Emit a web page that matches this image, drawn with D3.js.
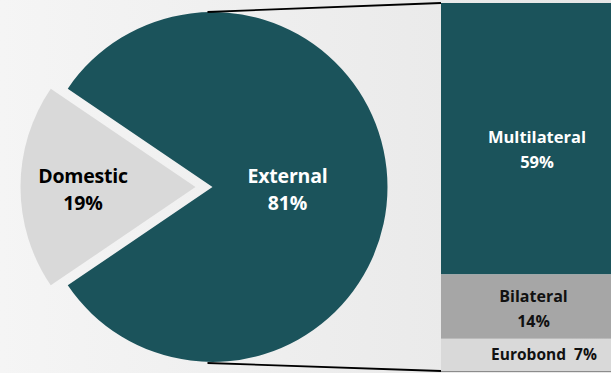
<!DOCTYPE html>
<html><head><meta charset="utf-8">
<script src="https://cdn.jsdelivr.net/npm/d3@7"></script>
<style>html,body{margin:0;padding:0;overflow:hidden;background:#f0f0f0}</style>
</head><body>
<svg id="chart" width="611" height="373"></svg>
<script>
// Data
const pieLabels = ["Domestic", "External"];
const pieValues = [19, 81];
const barLabels = ["Multilateral", "Bilateral", "Eurobond"];
const barValues = [59, 14, 7];

const W = 611, H = 373;
const svg = d3.select("#chart");
const defs = svg.append("defs");
const grad = defs.append("linearGradient").attr("id","bg").attr("x1","0").attr("y1","0").attr("x2","1").attr("y2","0");
grad.append("stop").attr("offset","0").attr("stop-color","#f5f5f5");
grad.append("stop").attr("offset","1").attr("stop-color","#e6e6e6");
svg.append("rect").attr("width",W).attr("height",H).attr("fill","url(#bg)");

const teal = "#1b535b";
const cx = 212.5, cy = 187, r = 175;
const font = "'Open Sans', 'Noto Sans', sans-serif";

// Pie: Domestic centered on the left
const domFrac = pieValues[0] / d3.sum(pieValues);
const startA = -Math.PI/2 - domFrac*Math.PI;
const pie = d3.pie().sort(null).value(d => d).startAngle(startA).endAngle(startA + 2*Math.PI);
const arcs = pie(pieValues);
const arc = d3.arc().innerRadius(0).outerRadius(r);
const explode = [17, 0];
const pieColors = ["#d9d9d9", teal];

const g = svg.append("g").attr("transform", `translate(${cx},${cy})`);
arcs.forEach((a, i) => {
  const mid = (a.startAngle + a.endAngle)/2;
  const dx = Math.sin(mid)*explode[i], dy = -Math.cos(mid)*explode[i];
  g.append("path").attr("d", arc(a)).attr("fill", pieColors[i])
    .attr("transform", `translate(${dx},${dy})`);
});

// Pie labels
const pieLabelX = [83 - cx, 287.5 - cx];
const pieTextColor = ["#000", "#fff"];
arcs.forEach((a, i) => {
  const t = g.append("text").attr("text-anchor","middle")
    .attr("font-family", font).attr("font-weight", 700).attr("font-size", 19.5)
    .attr("letter-spacing", -0.2)
    .attr("fill", pieTextColor[i]);
  t.append("tspan").attr("x", pieLabelX[i]).attr("y", -4).text(pieLabels[i]);
  t.append("tspan").attr("x", pieLabelX[i]).attr("y", 23).text(pieValues[i] + "%");
});

// Stacked bar
const barX = 441, barW = 200, barTop = 3, barBottom = 371;
const y = d3.scaleLinear().domain([0, d3.sum(barValues)]).range([barTop, barBottom]);
const cum = d3.cumsum([0, ...barValues]);
const barColors = [teal, "#a6a6a6", "#d9d9d9"];
barValues.forEach((v, i) => {
  svg.append("rect").attr("x", barX).attr("y", y(cum[i])).attr("width", barW)
    .attr("height", y(cum[i+1]) - y(cum[i])).attr("fill", barColors[i]);
});
svg.append("line").attr("x1", barX).attr("x2", W).attr("y1", barBottom+0.5).attr("y2", barBottom+0.5)
  .attr("stroke", "#8c8c8c").attr("stroke-width", 1);

// bar labels
const mid1 = (y(cum[1]) + y(cum[2]))/2;
const mid2 = (y(cum[2]) + y(cum[3]))/2;
const t0 = svg.append("text").attr("text-anchor","middle").attr("font-family",font).attr("font-weight",700)
  .attr("font-size",16.5).attr("fill","#fff");
t0.append("tspan").attr("x", 537).attr("y", 143).text(barLabels[0]);
t0.append("tspan").attr("x", 537).attr("y", 168).text(barValues[0] + "%");
const t1 = svg.append("text").attr("text-anchor","middle").attr("font-family",font).attr("font-weight",700)
  .attr("font-size",16).attr("fill","#111");
t1.append("tspan").attr("x", 533.5).attr("y", 302).text(barLabels[1]);
t1.append("tspan").attr("x", 533.5).attr("y", 327).text(barValues[1] + "%");
svg.append("text").attr("text-anchor","middle").attr("font-family",font).attr("font-weight",700)
  .attr("font-size",15.5).attr("fill","#111").attr("x", 544).attr("y", 360)
  .attr("xml:space","preserve").text(barLabels[2] + "  " + barValues[2] + "%");

// connector lines
svg.append("line").attr("x1", cx - 5).attr("y1", cy - r).attr("x2", barX).attr("y2", barTop)
  .attr("stroke", "#000").attr("stroke-width", 1.8);
svg.append("line").attr("x1", cx - 5).attr("y1", cy + r + 1).attr("x2", barX).attr("y2", barBottom)
  .attr("stroke", "#000").attr("stroke-width", 1.8);
</script>
</body></html>
